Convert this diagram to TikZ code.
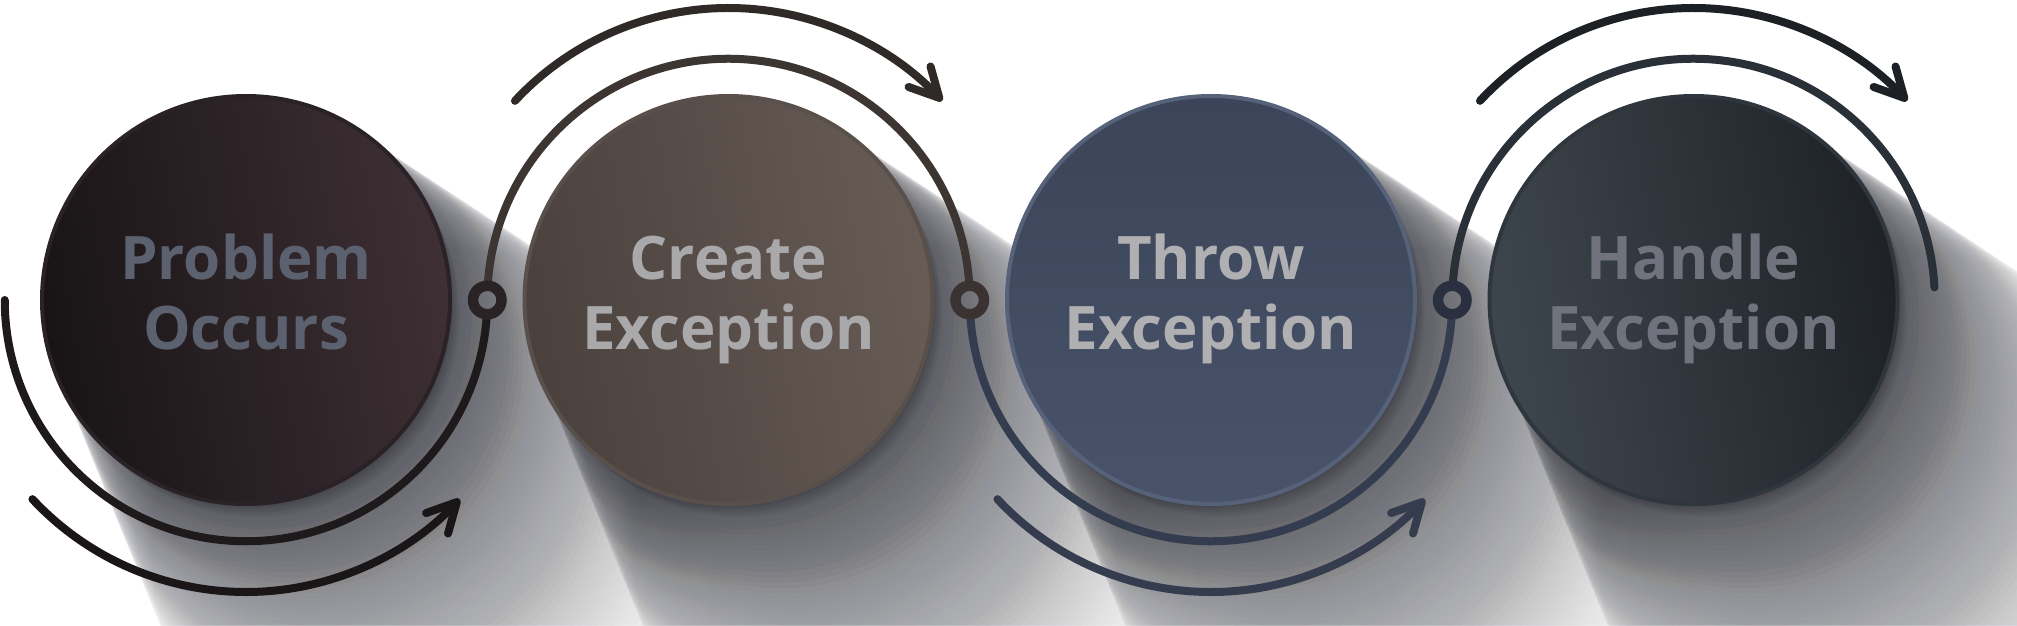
\documentclass[tikz,border=0pt]{standalone}
\usepackage{fontspec}
\newfontfamily\lf{Open Sans}
\usetikzlibrary{arrows.meta,calc}
\definecolor{shcol}{RGB}{34,36,46}
\definecolor{ca1}{HTML}{181416}\definecolor{cb1}{HTML}{3E3034}
\definecolor{ca2}{HTML}{4A413D}\definecolor{cb2}{HTML}{675B55}
\definecolor{ca3}{HTML}{3B4458}\definecolor{cb3}{HTML}{48536A}
\definecolor{ca4}{HTML}{3E464D}\definecolor{cb4}{HTML}{1E2227}
\definecolor{rim1}{HTML}{2A2226}\definecolor{rim2}{HTML}{5A504B}
\definecolor{rim3}{HTML}{56627A}\definecolor{rim4}{HTML}{30363D}
\definecolor{tx1}{HTML}{5C6170}\definecolor{tx2}{HTML}{A9A9AB}
\definecolor{tx3}{HTML}{B0B0B2}\definecolor{tx4}{HTML}{70737D}
\definecolor{rg1}{HTML}{1E1A1C}\definecolor{rg2}{HTML}{3D3532}
\definecolor{rg3}{HTML}{343C50}\definecolor{rg4}{HTML}{2A3037}
\definecolor{ar1}{HTML}{1A1618}\definecolor{ar2}{HTML}{2F2A28}
\definecolor{ar3}{HTML}{353C4E}\definecolor{ar4}{HTML}{1D2126}
\definecolor{jn1}{HTML}{2A2325}\definecolor{jn2}{HTML}{3A3331}
\definecolor{jn3}{HTML}{2A3040}
\tikzset{
  bubble/.style={circle, minimum size=408pt, inner sep=0pt, line width=4pt,
    align=center, font={\lf\bfseries\fontsize{60}{70}\selectfont}},
  ringline/.style={line width=8pt},
  arrowline/.style={line width=8pt, line cap=round,
    -{Straight Barb[length=29pt, width=30pt, line width=8pt, round]}},
  junction/.style={circle, minimum size=28.5pt, inner sep=0pt, line width=10.5pt},
}
\begin{document}
\begin{tikzpicture}[x=1pt,y=1pt]
\useasboundingbox (0,0) rectangle (2017,625);
\fill[white] (0,0) rectangle (2017,625);
\coordinate (p1) at (246,325);
\coordinate (p2) at (728.5,325);
\coordinate (p3) at (1211,325);
\coordinate (p4) at (1693.5,325);
% shadows
\foreach \p in {p1,p2,p3,p4}{
  \foreach \i in {1,...,64}{
    \pgfmathsetmacro\op{0.03*(1-\i/68)}
    \fill[shcol, opacity=\op] ([shift={(\i*3.2,-\i*3.9)}]\p) circle[radius={202pt+\i*1.5pt}];
  }
  \foreach \i in {1,...,8}{
    \fill[shcol, opacity=0.05] ([shift={(\i*1.3,-\i*1.7)}]\p) circle[radius=203pt];
  }
}
% circles
\node[bubble, left color=ca1, right color=cb1, shading angle=100, draw=rim1, text=tx1] (c1) at (p1) {\strut Problem\\Occurs\strut};
\node[bubble, left color=ca2, right color=cb2, shading angle=100, draw=rim2, text=tx2] (c2) at (p2) {\strut Create\\Exception\strut};
\node[bubble, top color=ca3, bottom color=cb3, draw=rim3, text=tx3] (c3) at (p3) {\strut Throw\\Exception\strut};
\node[bubble, left color=ca4, right color=cb4, shading angle=100, draw=rim4, text=tx4] (c4) at (p4) {\strut Handle\\Exception\strut};
% wave ring
\draw[ringline, rg1, line cap=round] ([shift={(180:241.25)}]p1) arc[start angle=180, end angle=356, radius=241.25pt];
\draw[ringline, rg2] ([shift={(176:241.25)}]p2) arc[start angle=176, end angle=4, radius=241.25pt];
\draw[ringline, rg3] ([shift={(184:241.25)}]p3) arc[start angle=184, end angle=356, radius=241.25pt];
\draw[ringline, rg4, line cap=round] ([shift={(176:241.25)}]p4) arc[start angle=176, end angle=3, radius=241.25pt];
% junctions
\node[junction, draw=jn1] (j1) at ($(p1)!0.5!(p2)$) {};
\node[junction, draw=jn2] (j2) at ($(p2)!0.5!(p3)$) {};
\node[junction, draw=jn3] (j3) at ($(p3)!0.5!(p4)$) {};
% arrows
\draw[arrowline, ar1] ([shift={(223:292)}]p1) arc[start angle=223, end angle=317, radius=292pt];
\draw[arrowline, ar2] ([shift={(137:292)}]p2) arc[start angle=137, end angle=43, radius=292pt];
\draw[arrowline, ar3] ([shift={(223:292)}]p3) arc[start angle=223, end angle=317, radius=292pt];
\draw[arrowline, ar4] ([shift={(137:292)}]p4) arc[start angle=137, end angle=43, radius=292pt];
\end{tikzpicture}
\end{document}
